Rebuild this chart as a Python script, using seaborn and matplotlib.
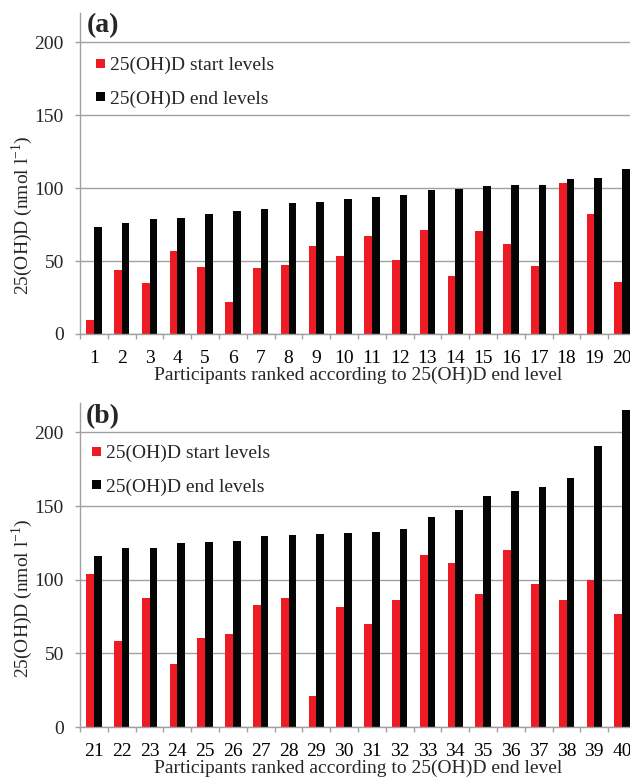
import numpy as np
import pandas as pd
import matplotlib
matplotlib.use("Agg")
import matplotlib.pyplot as plt
import seaborn as sns

# ---- data ----
participants_a = [str(i) for i in range(1, 21)]
start_a = [9.6, 43.7, 34.8, 56.8, 45.8, 22.2, 45.5, 47.1, 60.4, 53.8,
           67.5, 50.6, 71.4, 40.0, 70.3, 61.6, 46.9, 103.4, 82.2, 35.5]
end_a = [73.0, 76.2, 78.5, 79.4, 82.2, 84.4, 85.4, 89.7, 90.6, 92.4,
         93.8, 95.0, 98.4, 99.5, 101.1, 101.8, 101.8, 106.2, 106.6, 113.3]

participants_b = [str(i) for i in range(21, 41)]
start_b = [103.9, 58.3, 87.8, 42.6, 60.1, 63.3, 82.8, 87.8, 21.1, 81.2,
           70.1, 86.2, 116.8, 111.3, 90.2, 120.2, 97.3, 86.4, 99.8, 76.9]
end_b = [116.3, 121.3, 121.5, 124.9, 125.6, 126.1, 129.7, 130.6, 131.3, 131.5,
         132.2, 134.7, 142.6, 147.4, 156.7, 160.5, 162.8, 169.4, 190.9, 215.4]

series_labels = ["25(OH)D start levels", "25(OH)D end levels"]
y_ticks = [0, 50, 100, 150, 200]
panel_labels = ["(a)", "(b)"]
x_label = "Participants ranked according to 25(OH)D end level"
y_label = "25(OH)D (nmol l$^{\\mathregular{-1}}$)"

RED = "#ED1C24"
BLACK = "#050505"
GRID = "#A0A0A0"

sns.set_theme(style="white")
plt.rcParams["font.family"] = ["Liberation Serif", "DejaVu Serif"]
plt.rcParams["mathtext.fontset"] = "custom"
plt.rcParams["mathtext.rm"] = "Liberation Serif"

W, H = 630, 780
fig = plt.figure(figsize=(W / 100, H / 100), dpi=100)

PX = 72 / 100  # points per pixel


def px_rect(left, top, bottom, width):
    return [left / W, 1 - bottom / H, width / W, (bottom - top) / H]


def draw(ax, parts, start, end, legend_xy, panel_xy, panel_label, ylab_xy):
    df = pd.DataFrame({
        "participant": parts * 2,
        "level": [series_labels[0]] * len(parts) + [series_labels[1]] * len(parts),
        "value": start + end,
    })
    sns.barplot(data=df, x="participant", y="value", hue="level", order=parts,
                hue_order=series_labels, palette=[RED, BLACK], width=0.56, gap=0,
                saturation=1, errorbar=None, linewidth=0, ax=ax)
    ax.set_xlim(-0.5, len(parts) - 0.5)
    ax.set_ylim(0, 220)
    ax.set_yticks(y_ticks)
    ax.yaxis.grid(True, color=GRID, lw=1.0)
    ax.xaxis.grid(False)
    ax.set_axisbelow(True)
    for s in ["top", "right"]:
        ax.spines[s].set_visible(False)
    for s in ["left", "bottom"]:
        ax.spines[s].set_color(GRID)
        ax.spines[s].set_linewidth(1.0)
    ax.set_xticks(np.arange(-0.5, len(parts), 1), minor=True)
    ax.tick_params(axis="x", which="major", length=0, pad=11.5, labelsize=14, colors="black")
    ax.tick_params(axis="x", which="minor", length=5 * PX, width=1.0, color=GRID, bottom=True)
    ax.tick_params(axis="y", which="major", length=5 * PX, width=1.0, color=GRID,
                   pad=8, labelsize=14, left=True)
    ax.set_xlabel(x_label, fontsize=14, labelpad=0)
    ax.set_ylabel("")
    handles, labels = ax.get_legend_handles_labels()
    ax.legend(handles, labels, loc="upper left",
              bbox_to_anchor=(legend_xy[0] / W, 1 - legend_xy[1] / H),
              bbox_transform=fig.transFigure, frameon=False,
              handlelength=0.46, handleheight=0.33, handletextpad=0.28,
              labelspacing=0.82, borderpad=0, borderaxespad=0, fontsize=14)
    fig.text(panel_xy[0] / W, 1 - panel_xy[1] / H, panel_label, fontsize=20,
             fontweight="bold", ha="left", va="center")
    fig.text(ylab_xy[0] / W, 1 - ylab_xy[1] / H, y_label, rotation=90,
             ha="center", va="center", fontsize=14)


ax_a = fig.add_axes(px_rect(80, 13, 334, 556))
draw(ax_a, participants_a, start_a, end_a, (96, 57), (87, 26), panel_labels[0], (22, 215))

ax_b = fig.add_axes(px_rect(80, 403, 727, 556))
draw(ax_b, participants_b, start_b, end_b, (92, 445), (86, 417), panel_labels[1], (22, 598))

fig.savefig("out.png", dpi=100)
